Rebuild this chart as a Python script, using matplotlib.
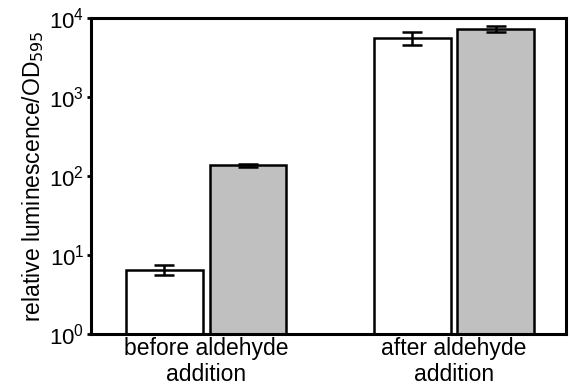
import numpy as np
import matplotlib
matplotlib.use("Agg")
import matplotlib.pyplot as plt

plt.rcParams['font.family'] = ['Liberation Sans', 'DejaVu Sans']

groups = ["before aldehyde\naddition", "after aldehyde\naddition"]
white_vals = [6.5, 5600]
white_err = [0.9, 1000]
gray_vals = [136, 7300]
gray_err = [6, 700]

fig = plt.figure(figsize=(5.7, 3.85), dpi=100)
ax = fig.add_axes([0.16, 0.1325, 0.833, 0.8205])

x = np.arange(len(groups))
w = 0.31
off = w / 2 + 0.014
ax.bar(x - off, white_vals, w, color="white", edgecolor="black", linewidth=1.8,
       yerr=white_err, capsize=7, error_kw=dict(elinewidth=1.8, capthick=1.8, ecolor="black"))
ax.bar(x + off, gray_vals, w, color="#c0c0c0", edgecolor="black", linewidth=1.8,
       yerr=gray_err, capsize=7, error_kw=dict(elinewidth=1.8, capthick=1.8, ecolor="black"))

ax.set_yscale("log")
ax.set_ylim(1, 1e4)
ax.set_xlim(-0.464, 1.452)
ax.minorticks_off()
ax.set_yticks([1, 10, 100, 1000, 10000])
ax.set_xticks(x)
ax.set_xticklabels(groups, fontsize=16.5, linespacing=1.2)
ax.tick_params(axis="y", labelsize=16, length=3, width=2, pad=2)
ax.tick_params(axis="x", length=0, pad=2)
for s in ax.spines.values():
    s.set_linewidth(2.2)
ax.set_ylabel("relative luminescence/OD$_{595}$", fontsize=16.5, labelpad=2)

fig.savefig("out.png", dpi=100)
